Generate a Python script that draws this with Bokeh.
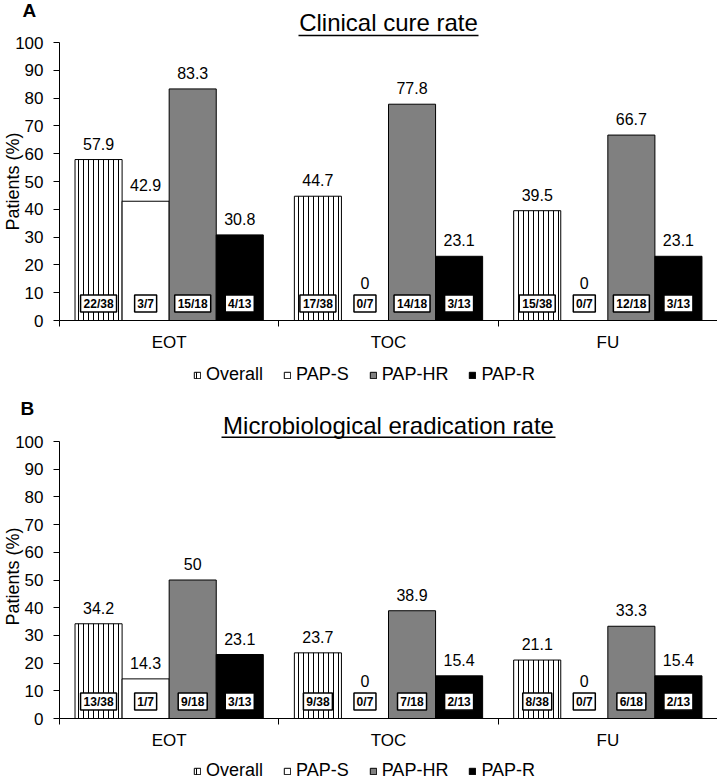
import math
from bokeh.plotting import figure
from bokeh.layouts import column
from bokeh.models import (Range1d, LinearAxis, FixedTicker, Legend, LegendItem,
                          ColumnDataSource)
from bokeh.core.properties import value
from bokeh.embed import file_html
from bokeh.resources import INLINE

# ---------------- data ----------------
categories = ["EOT", "TOC", "FU"]
series_names = ["Overall", "PAP-S", "PAP-HR", "PAP-R"]

cure_overall = [57.9, 44.7, 39.5]
cure_paps = [42.9, 0, 0]
cure_paphr = [83.3, 77.8, 66.7]
cure_papr = [30.8, 23.1, 23.1]
cure_overall_n = ["22/38", "17/38", "15/38"]
cure_paps_n = ["3/7", "0/7", "0/7"]
cure_paphr_n = ["15/18", "14/18", "12/18"]
cure_papr_n = ["4/13", "3/13", "3/13"]

erad_overall = [34.2, 23.7, 21.1]
erad_paps = [14.3, 0, 0]
erad_paphr = [50, 38.9, 33.3]
erad_papr = [23.1, 15.4, 15.4]
erad_overall_n = ["13/38", "9/38", "8/38"]
erad_paps_n = ["1/7", "0/7", "0/7"]
erad_paphr_n = ["9/18", "7/18", "6/18"]
erad_papr_n = ["3/13", "2/13", "2/13"]

y_ticks = [0, 10, 20, 30, 40, 50, 60, 70, 80, 90, 100]

# ---------------- style / layout (pixels) ----------------
FONT = "Liberation Sans"
FILLS = ["white", "white", "#808080", "black"]
HATCH = ["vertical_line", None, None, None]
BAR_W = 0.2146
W = 717
AX_X = 59          # pixel x of the y axis
PPU_X = (W - AX_X) / 3.0


def make_panel(letter, title, vals, ns, H, y100, y0, letter_px, title_px,
               underline_px, title_half_px, ylab_px, legend_y):
    ppu_y = (y0 - y100) / 100.0
    y_top = 100 + y100 / ppu_y
    y_bot = -(H - y0) / ppu_y
    x_left = -AX_X / PPU_X

    def dx(px):
        return (px - AX_X) / PPU_X

    def dy(px):
        return y_top - px / ppu_y

    p = figure(width=W, height=H,
               x_range=Range1d(x_left, 3), y_range=Range1d(y_bot, y_top),
               x_axis_type=None, y_axis_type=None,
               toolbar_location=None, output_backend="svg",
               min_border=0)
    p.outline_line_color = None
    p.xgrid.visible = False
    p.ygrid.visible = False
    p.background_fill_color = "white"

    # y axis
    yax = LinearAxis(bounds=(0, 100), fixed_location=0,
                     ticker=FixedTicker(ticks=y_ticks, minor_ticks=[]))
    yax.major_tick_in = 0
    yax.major_tick_out = 6
    yax.major_label_standoff = 10
    yax.major_label_text_font = FONT
    yax.major_label_text_font_size = "17px"
    yax.major_label_text_color = "black"
    yax.axis_line_color = "black"
    yax.major_tick_line_color = "black"
    p.add_layout(yax, "left")

    # x axis
    centers = [i + 0.5 for i in range(len(categories))]
    bounds_t = [float(i) for i in range(len(categories) + 1)]
    xax = LinearAxis(bounds=(0, 3), fixed_location=0,
                     ticker=FixedTicker(ticks=centers, minor_ticks=bounds_t))
    xax.major_label_overrides = {c: lab for c, lab in zip(centers, categories)}
    xax.major_tick_line_color = None
    xax.major_tick_in = 0
    xax.major_tick_out = 5
    xax.minor_tick_in = 0
    xax.minor_tick_out = 6
    xax.minor_tick_line_color = "black"
    xax.major_label_standoff = 6
    xax.major_label_text_font = FONT
    xax.major_label_text_font_size = "17px"
    xax.major_label_text_color = "black"
    xax.axis_line_color = "black"
    p.add_layout(xax, "below")

    renderers = []
    for j, (v, n) in enumerate(zip(vals, ns)):
        xs = [i + 0.5 + (j - 1.5) * BAR_W for i in range(len(categories))]
        src = ColumnDataSource(dict(
            x=xs, top=v, n=n,
            lab=["%g" % t for t in v],
            off=[-16 if t > 0 else -38 for t in v],
            bw=[7 * len(s) + 1 for s in n],
            by=[6.1] * len(v),
        ))
        kw = {}
        if HATCH[j]:
            kw = dict(hatch_pattern=HATCH[j], hatch_color="black", hatch_scale=5, hatch_weight=1)
        r = p.vbar(x="x", top="top", bottom=0, width=BAR_W, source=src,
                   fill_color=FILLS[j], line_color="black", line_width=1, **kw)
        renderers.append(r)
        p.rect(x="x", y="by", width="bw", height=17, width_units="screen",
               height_units="screen", source=src, fill_color="white",
               line_color="black", line_width=1.5)
        p.text(x="x", y="by", text="n", source=src, text_align="center",
               text_baseline="middle", text_font=value(FONT), text_font_size="12px",
               text_font_style="bold", text_color="black")
        p.text(x="x", y="top", text="lab", source=src, y_offset="off",
               text_align="center", text_baseline="middle",
               text_font=value(FONT), text_font_size="16px", text_color="black")

    # title with underline
    p.text(x=[1.5], y=[dy(title_px)], text=[title], text_align="center",
           text_baseline="middle", text_font=value(FONT),
           text_font_size="24px", text_color="black")
    half = title_half_px / PPU_X
    p.segment(x0=[1.5 - half], y0=[dy(underline_px)], x1=[1.5 + half],
              y1=[dy(underline_px)], line_color="black", line_width=1.5)

    # panel letter and y-axis title
    p.text(x=[dx(letter_px[0])], y=[dy(letter_px[1])], text=[letter],
           text_font=value(FONT), text_font_size="19px", text_font_style="bold",
           text_align="left", text_baseline="middle", text_color="black")
    p.text(x=[dx(ylab_px[0])], y=[dy(ylab_px[1])], text=["Patients (%)"],
           angle=math.pi / 2, text_font=value(FONT), text_font_size="18px",
           text_align="center", text_baseline="middle", text_color="black")

    legend = Legend(items=[LegendItem(label=s, renderers=[r]) for s, r in zip(series_names, renderers)],
                    orientation="horizontal", location=(193, legend_y),
                    label_text_font=FONT, label_text_font_size="18px",
                    label_text_color="black",
                    glyph_width=8, glyph_height=8, label_standoff=5, spacing=20,
                    padding=0, margin=0, border_line_color=None,
                    background_fill_alpha=0)
    p.add_layout(legend, "center")
    return p


pA = make_panel("A", "Clinical cure rate",
                [cure_overall, cure_paps, cure_paphr, cure_papr],
                [cure_overall_n, cure_paps_n, cure_paphr_n, cure_papr_n],
                H=390, y100=42, y0=320, letter_px=(22, 10), title_px=21.5,
                underline_px=35, title_half_px=90, ylab_px=(12, 181), legend_y=5)

pB = make_panel("B", "Microbiological eradication rate",
                [erad_overall, erad_paps, erad_paphr, erad_papr],
                [erad_overall_n, erad_paps_n, erad_paphr_n, erad_papr_n],
                H=391, y100=51, y0=328, letter_px=(20, 17.5), title_px=34.5,
                underline_px=46.7, title_half_px=167, ylab_px=(12, 186), legend_y=0)

layout = column(pA, pB, spacing=0)
open("out.html", "w").write(file_html(layout, INLINE))
